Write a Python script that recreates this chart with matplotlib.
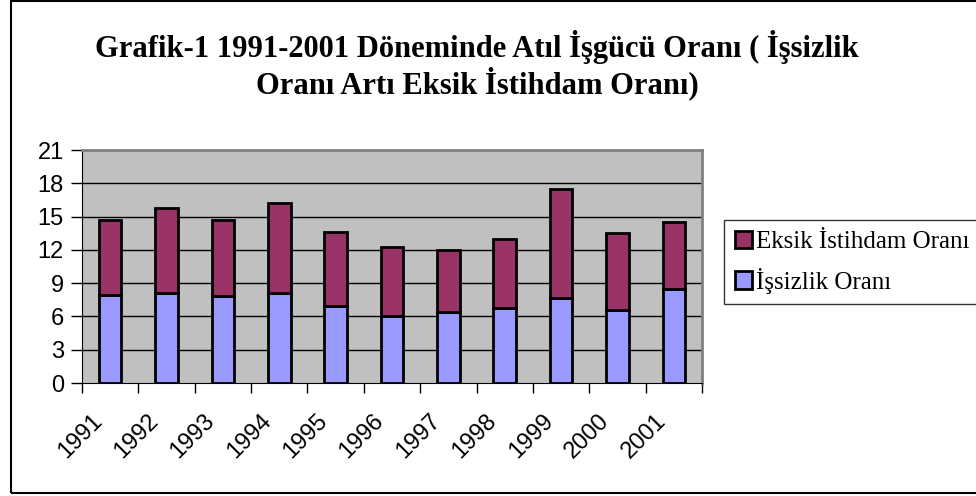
import matplotlib
matplotlib.use("Agg")
import matplotlib.pyplot as plt
from matplotlib.patches import Rectangle
import numpy as np

years = ['1991', '1992', '1993', '1994', '1995', '1996',
         '1997', '1998', '1999', '2000', '2001']
issizlik = [7.9, 8.1, 7.8, 8.1, 6.9, 6.0, 6.4, 6.8, 7.7, 6.6, 8.5]
eksik = [6.8, 7.7, 6.9, 8.1, 6.7, 6.3, 5.6, 6.2, 9.8, 6.9, 6.0]
yticks = [0, 3, 6, 9, 12, 15, 18, 21]

fig = plt.figure(figsize=(9.76, 4.96), dpi=100)
ax = fig.add_axes([82/976, 1 - 383/496, 620/976, 233/496])

x = np.arange(len(years))
w = 0.4
ax.bar(x, issizlik, w, color='#9999FF', edgecolor='black', linewidth=2,
       label='İşsizlik Oranı', zorder=3)
ax.bar(x, eksik, w, bottom=issizlik, color='#993366', edgecolor='black',
       linewidth=2, label='Eksik İstihdam Oranı', zorder=3)

ax.set_facecolor('#C0C0C0')
ax.set_xlim(-0.5, len(years) - 0.5)
ax.set_ylim(0, 21)
ax.set_yticks(yticks)
ax.set_yticklabels([str(t) for t in yticks], fontsize=17,
                   family='Liberation Sans')
for t in yticks[1:-1]:
    ax.axhline(t, color='black', linewidth=1, zorder=1)

# category ticks sit between bars, year labels drawn rotated under each bar
ax.set_xticks(np.arange(len(years) + 1) - 0.5)
ax.set_xticklabels([])
ax.tick_params(axis='x', direction='out', length=7, width=1)
ax.tick_params(axis='y', direction='out', length=8, width=1, pad=5)
for i, yr in enumerate(years):
    ax.text(i - 0.34, -2.45, yr, rotation=45, ha='right', va='top',
            rotation_mode='anchor', fontsize=17, family='Liberation Sans',
            transform=ax.transData)

ax.spines['top'].set_color('#808080')
ax.spines['right'].set_color('#808080')
ax.spines['top'].set_linewidth(2)
ax.spines['right'].set_linewidth(2)

handles, labels = ax.get_legend_handles_labels()
leg = fig.legend(handles[::-1], labels[::-1], loc='upper left',
                 bbox_to_anchor=(724/976, 1 - 220/496, 0.3, 0.0),
                 mode='expand',
                 prop={'family': 'Liberation Serif', 'size': 18},
                 frameon=True, fancybox=False, edgecolor='black',
                 handlelength=0.7, handleheight=0.7, handletextpad=0.15,
                 borderpad=0.42, labelspacing=0.58, borderaxespad=0)
leg.get_frame().set_linewidth(1)

fig.text(0.489, 1 - 65/496,
         'Grafik-1 1991-2001 Döneminde Atıl İşgücü Oranı ( İşsizlik\n'
         'Oranı Artı Eksik İstihdam Oranı)',
         ha='center', va='center', fontsize=22, fontweight='bold',
         family='Liberation Serif', linespacing=1.1)

fig.add_artist(Rectangle((11/976, 3/496), 1.0, 1 - 4/496,
                         transform=fig.transFigure, fill=False,
                         edgecolor='black', linewidth=1.5))

fig.savefig('out.png', dpi=100)
